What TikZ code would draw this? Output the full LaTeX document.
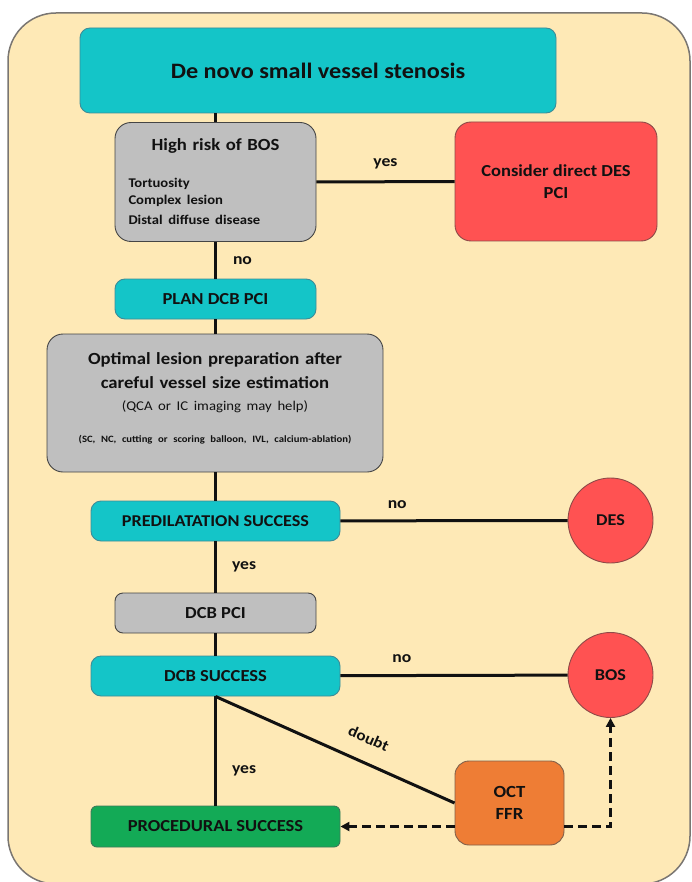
\documentclass[tikz,border=0pt]{standalone}
\usepackage{fontspec}
\setmainfont{Carlito}[FakeStretch=1.1]
\usetikzlibrary{arrows.meta,positioning}
\definecolor{ink}{HTML}{111111}
\definecolor{paper}{HTML}{FEE9B6}
\definecolor{rim}{HTML}{7A7672}
\definecolor{teal}{HTML}{14C5C8}
\definecolor{tealline}{HTML}{3C8C98}
\definecolor{grey}{HTML}{BFBFBF}
\definecolor{greyline}{HTML}{454545}
\definecolor{red}{HTML}{FF5252}
\definecolor{redline}{HTML}{8E4A48}
\definecolor{orange}{HTML}{EE7D35}
\definecolor{orangeline}{HTML}{80604A}
\definecolor{green}{HTML}{13AA56}
\definecolor{greenline}{HTML}{3C7A5A}
\tikzset{
  flow/.style={draw=ink,line width=3pt},
  dflow/.style={flow,dash pattern=on 9pt off 5pt,-{Triangle[length=9pt,width=9pt]}},
  box/.style={rounded corners=10pt,line width=0.9pt,align=center,inner sep=0pt,
              text=ink,font=\bfseries\fontsize{16.8}{20}\selectfont},
  tbox/.style={box,draw=tealline,fill=teal},
  gbox/.style={box,draw=greyline,fill=grey,rounded corners=16pt},
  rbox/.style={box,draw=redline,fill=red,rounded corners=16pt},
  obox/.style={box,draw=orangeline,fill=orange,rounded corners=14pt},
  pbox/.style={box,draw=greenline,fill=green,rounded corners=6pt},
  endpt/.style={circle,draw=redline,fill=red,line width=0.9pt,minimum size=85pt,
                inner sep=0pt,text=ink,font=\bfseries\fontsize{16.5}{20}\selectfont},
  label/.style={font=\bfseries\fontsize{16}{18}\selectfont,text=ink,inner sep=2pt},
}
\begin{document}
\begin{tikzpicture}[x=1pt,y=-1pt]
  \useasboundingbox (0,0) rectangle (692,882);
  \draw[draw=rim,fill=paper,line width=1.5pt,rounded corners=48pt] (8,13) rectangle (690,884);
  % main column
  \node[tbox,minimum width=476pt,minimum height=85pt,font=\bfseries\fontsize{22}{26}\selectfont]
    (start) at (318,70.5) {De novo small vessel stenosis};
  \node[gbox,minimum width=201pt,minimum height=119pt,text width=174pt,align=left] (risk) at (215.5,182)
    {\fontsize{17}{19}\selectfont\makebox[174pt]{High risk of BOS}\\[19pt]
     \fontsize{13.3}{17.5}\selectfont Tortuosity\\Complex lesion\\Distal diffuse disease};
  \node[rbox,minimum width=202pt,minimum height=119pt,font=\bfseries\fontsize{16.8}{22}\selectfont]
    (direct) at (556,181.5) {Consider direct DES\\PCI};
  \node[tbox,minimum width=201pt,minimum height=40pt] (plan) at (215.5,299) {PLAN DCB PCI};
  \node[gbox,minimum width=336pt,minimum height=138pt,text width=330pt] (prep) at (215,403)
    {\centering\fontsize{17}{22}\selectfont Optimal lesion preparation after\\[2pt]careful vessel size estimation\\
     {\mdseries\fontsize{13.4}{20}\selectfont (QCA or IC imaging may help)}\\[10pt]
     {\fontsize{9.7}{11}\selectfont (SC, NC, cutting or scoring balloon, IVL, calcium-ablation)}\\[-12pt]\mbox{}\par};
  \node[tbox,minimum width=249pt,minimum height=40pt,font=\bfseries\fontsize{16.5}{19}\selectfont]
    (pred) at (215.5,521) {PREDILATATION SUCCESS};
  \node[endpt] (des) at (610.5,520.5) {DES};
  \node[gbox,rounded corners=8pt,minimum width=201pt,minimum height=40pt] (dcb) at (215.5,613) {DCB PCI};
  \node[tbox,minimum width=249pt,minimum height=40pt] (dcbok) at (215.5,676) {DCB SUCCESS};
  \node[endpt] (bos) at (610.5,675) {BOS};
  \node[obox,minimum width=109pt,minimum height=84pt,font=\bfseries\fontsize{17}{22}\selectfont]
    (img) at (509.5,803) {OCT\\FFR};
  \node[pbox,minimum width=249pt,minimum height=41pt] (proc) at (215.5,826.5) {PROCEDURAL SUCCESS};
  % connectors
  \draw[flow] (risk.north |- start.south) -- (risk.north);
  \draw[flow] (risk) -- node[label,above=9pt]{yes} (direct);
  \draw[flow] (risk) -- node[label,right=14pt]{no} (plan);
  \draw[flow] (plan) -- (prep.north -| plan.south);
  \draw[flow] (prep.south -| pred.north) -- (pred);
  \draw[flow] (pred) -- node[label,above=9pt,pos=0.25]{no} (des);
  \draw[flow] (pred) -- node[label,right=13pt]{yes} (dcb);
  \draw[flow] (dcb) -- (dcbok);
  \draw[flow] (dcbok) -- node[label,above=9pt,pos=0.27]{no} (bos);
  \draw[flow] (dcbok) -- node[label,right=13pt,pos=0.68]{yes} (proc);
  \draw[flow] (dcbok.south) -- node[label,sloped,above=15pt,pos=0.6,font=\bfseries\fontsize{15.5}{17}\selectfont]{doubt} (img.west);
  \draw[dflow] (img.west |- proc.east) -- (proc.east);
  \draw[dflow] (img.east |- proc.east) -| (bos.south);
\end{tikzpicture}
\end{document}
